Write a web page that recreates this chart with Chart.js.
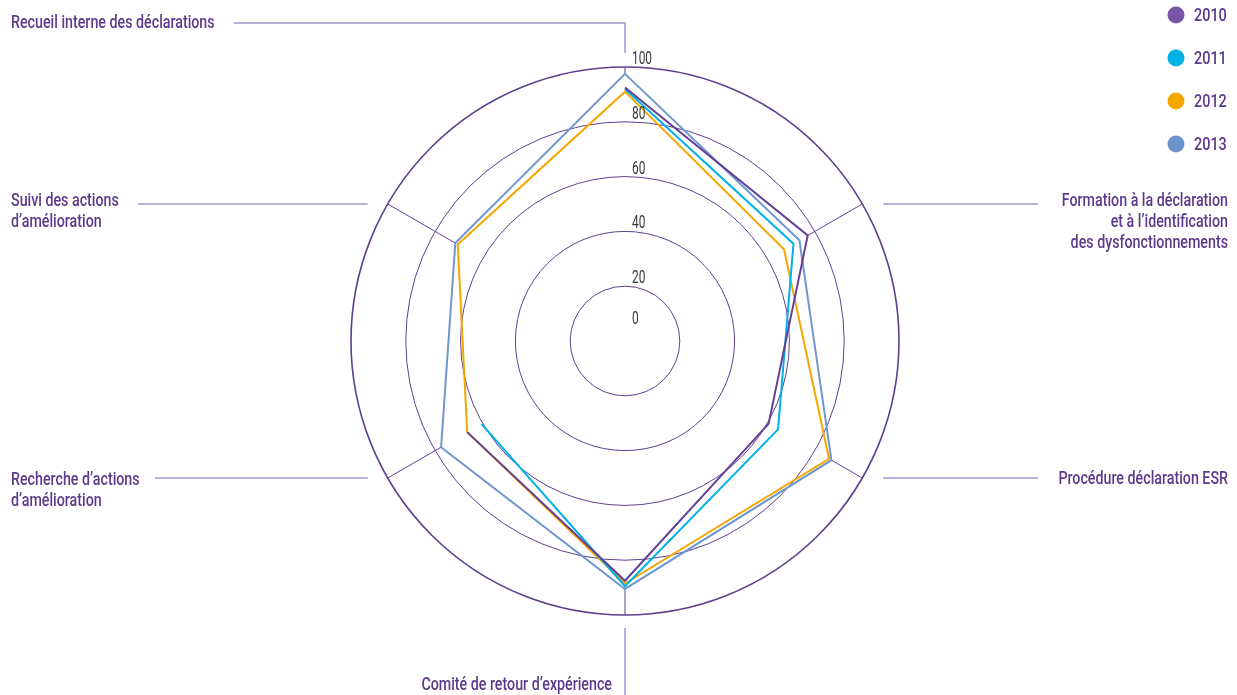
<!DOCTYPE html>
<html>
<head>
<meta charset="utf-8">
<script src="https://cdn.jsdelivr.net/npm/chart.js@4"></script>
<style>
  html, body { margin: 0; padding: 0; background: #ffffff; }
  #wrap { position: relative; width: 1237px; height: 695px; }
</style>
</head>
<body>
<div id="wrap"><canvas id="c"></canvas></div>
<script>
// ---- data ----
const categories = [
  ['Recueil interne des déclarations'],
  ['Formation à la déclaration', 'et à l\u2019identification', 'des dysfonctionnements'],
  ['Procédure déclaration ESR'],
  ['Comité de retour d\u2019expérience'],
  ['Recherche d\u2019actions', 'd\u2019amélioration'],
  ['Suivi des actions', 'd\u2019amélioration']
];
const seriesLabels = ['2010', '2011', '2012', '2013'];
const values2010 = [92.5, 77, 60.5, 87.5, 66.5, null];
const values2011 = [92, 71, 64.5, 89.5, 60.5, null];
const values2012 = [91, 67, 86, 88.5, 66.5, 70.5];
const values2013 = [97.5, 73.5, 87, 90.5, 77.5, 71.5];
const tickValues = [0, 20, 40, 60, 80, 100];

// ---- styles ----
const lineColors = ['#643f96', '#00b0e8', '#f5a600', '#6f97cf'];
const legendColors = ['#7a55a5', '#00b1e6', '#f6a800', '#6d94cb'];
const gridColor = '#5e3f8f';
const textColor = '#5b3a8c';
const leaderColor = '#a593cf';
const FONT = 'Roboto, "Liberation Sans", sans-serif';

const seriesValues = [values2010, values2011, values2012, values2013];

// label layout (positions of annotation texts)
const labelLayout = [
  { align: 'left',  x: 11,   y: 23,  leader: 'top',    lx: 234 },
  { align: 'right', x: 1228, y: 201, leader: 'right',  lx: 1038 },
  { align: 'right', x: 1228, y: 479, leader: 'right',  lx: 1038 },
  { align: 'right', x: 612,  y: 685, leader: 'bottom' },
  { align: 'left',  x: 11,   y: 480, leader: 'left',   lx: 155 },
  { align: 'left',  x: 11,   y: 201, leader: 'left',   lx: 138 }
];

// draws horizontally condensed text (the original uses a condensed face)
function condText(ctx, text, x, y, sx) {
  ctx.save();
  ctx.translate(x, y);
  ctx.scale(sx, 1);
  ctx.fillText(text, 0, 0);
  ctx.restore();
}

const decor = {
  id: 'decor',
  beforeDatasetsDraw(chart) {
    const s = chart.scales.r;
    const ctx = chart.ctx;
    ctx.save();
    ctx.strokeStyle = gridColor;
    ctx.lineWidth = 1;
    categories.forEach((c, i) => {
      let mx = 0;
      seriesValues.forEach(v => { if (v[i] != null && v[i] > mx) mx = v[i]; });
      const p0 = s.getPointPosition(i, s.getDistanceFromCenterForValue(mx));
      const p1 = s.getPointPosition(i, s.drawingArea);
      ctx.beginPath();
      ctx.moveTo(p0.x, p0.y);
      ctx.lineTo(p1.x, p1.y);
      ctx.stroke();
    });
    ctx.restore();
  },
  afterDatasetsDraw(chart) {
    const s = chart.scales.r;
    const ctx = chart.ctx;
    ctx.save();
    // tick labels
    ctx.fillStyle = '#3a3a3a';
    ctx.font = '18px ' + FONT;
    ctx.textAlign = 'left';
    ctx.textBaseline = 'alphabetic';
    tickValues.forEach(v => {
      const d = Math.max(s.getDistanceFromCenterForValue(v), 14);
      condText(ctx, String(v), s.xCenter + 7, s.yCenter - d - 3, 0.66);
    });

    // category labels + leader lines
    ctx.font = '500 19px ' + FONT;
    ctx.textBaseline = 'middle';
    categories.forEach((lines, i) => {
      const L = labelLayout[i];
      ctx.fillStyle = textColor;
      ctx.textAlign = L.align;
      lines.forEach((t, k) => condText(ctx, t, L.x, L.y + k * 21, 0.75));
      const outer = s.getPointPosition(i, s.drawingArea);
      ctx.strokeStyle = leaderColor;
      ctx.lineWidth = 1.5;
      ctx.beginPath();
      if (L.leader === 'top') {
        ctx.moveTo(L.lx, L.y);
        ctx.lineTo(outer.x, L.y);
        ctx.lineTo(outer.x, outer.y - 14);
      } else if (L.leader === 'right') {
        ctx.moveTo(outer.x + 21, outer.y);
        ctx.lineTo(L.lx, outer.y);
      } else if (L.leader === 'left') {
        ctx.moveTo(L.lx, outer.y);
        ctx.lineTo(outer.x - 20, outer.y);
      } else if (L.leader === 'bottom') {
        ctx.moveTo(outer.x, outer.y + 13);
        ctx.lineTo(outer.x, chart.height);
      }
      ctx.stroke();
    });

    // legend
    ctx.textAlign = 'left';
    ctx.textBaseline = 'middle';
    ctx.font = '500 19px ' + FONT;
    chart.data.datasets.forEach((ds, k) => {
      const y = 15 + k * 43;
      ctx.fillStyle = legendColors[k];
      ctx.beginPath();
      ctx.arc(1176, y, 8.5, 0, Math.PI * 2);
      ctx.fill();
      ctx.fillStyle = textColor;
      condText(ctx, ds.label, 1194, y + 1, 0.76);
    });
    ctx.restore();
  }
};

new Chart(document.getElementById('c'), {
  type: 'radar',
  data: {
    labels: categories,
    datasets: seriesLabels.map((lab, k) => ({
      label: lab,
      data: seriesValues[k],
      borderColor: lineColors[k],
      backgroundColor: 'transparent',
      borderWidth: 2,
      pointRadius: 0,
      pointHoverRadius: 0,
      fill: false,
      tension: 0,
      spanGaps: false
    }))
  },
  options: {
    responsive: true,
    maintainAspectRatio: false,
    animation: false,
    events: [],
    layout: { padding: { left: 351, right: 338, top: 67, bottom: 80 } },
    plugins: { legend: { display: false }, tooltip: { enabled: false } },
    scales: {
      r: {
        min: 0,
        max: 100,
        ticks: { display: false, stepSize: 20 },
        pointLabels: { display: false },
        angleLines: { display: false },
        grid: {
          circular: true,
          color: gridColor,
          lineWidth: (c) => (c.tick && c.tick.value === 100 ? 1.6 : 1)
        }
      }
    }
  },
  plugins: [decor]
});
</script>
</body>
</html>
